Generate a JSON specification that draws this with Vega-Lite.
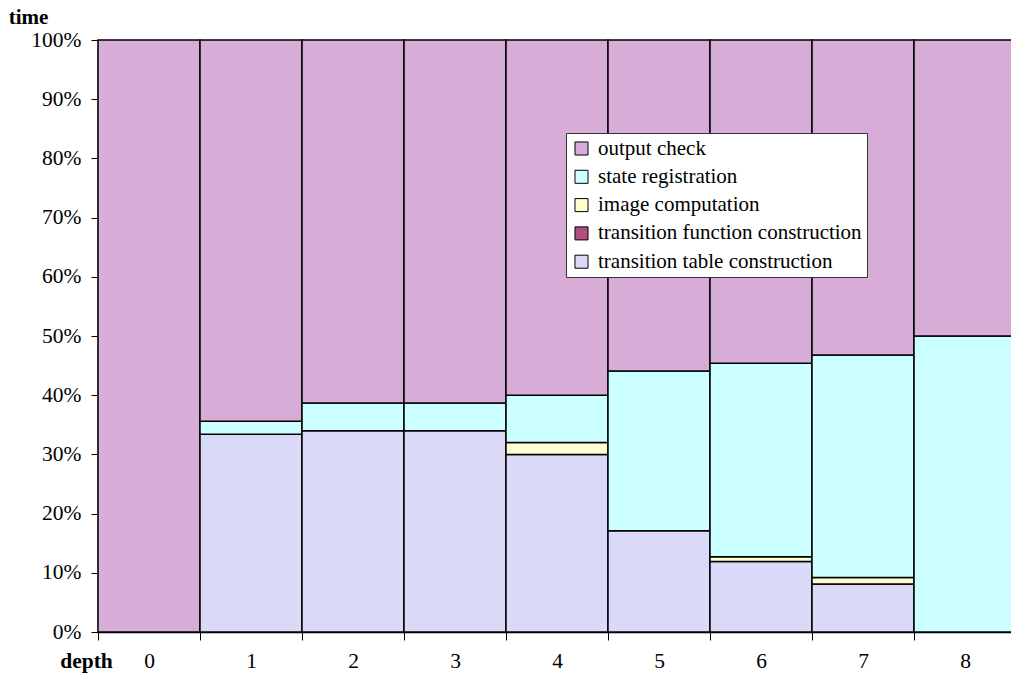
{
  "$schema": "https://vega.github.io/schema/vega-lite/v6.json",
  "width": 913,
  "height": 592,
  "autosize": {"type": "none"},
  "padding": {"left": 98, "top": 40, "right": 0, "bottom": 41},
  "background": "white",
  "config": {
    "view": {"stroke": null},
    "font": "Liberation Serif"
  },
  "data": {
    "values": [
      {"depth": "0", "task": "output check", "share": 1.0},
      {"depth": "1", "task": "transition table construction", "share": 0.334},
      {"depth": "1", "task": "state registration", "share": 0.022},
      {"depth": "1", "task": "output check", "share": 0.644},
      {"depth": "2", "task": "transition table construction", "share": 0.340},
      {"depth": "2", "task": "state registration", "share": 0.047},
      {"depth": "2", "task": "output check", "share": 0.613},
      {"depth": "3", "task": "transition table construction", "share": 0.340},
      {"depth": "3", "task": "state registration", "share": 0.047},
      {"depth": "3", "task": "output check", "share": 0.613},
      {"depth": "4", "task": "transition table construction", "share": 0.300},
      {"depth": "4", "task": "image computation", "share": 0.020},
      {"depth": "4", "task": "state registration", "share": 0.080},
      {"depth": "4", "task": "output check", "share": 0.600},
      {"depth": "5", "task": "transition table construction", "share": 0.171},
      {"depth": "5", "task": "state registration", "share": 0.270},
      {"depth": "5", "task": "output check", "share": 0.559},
      {"depth": "6", "task": "transition table construction", "share": 0.119},
      {"depth": "6", "task": "image computation", "share": 0.008},
      {"depth": "6", "task": "state registration", "share": 0.327},
      {"depth": "6", "task": "output check", "share": 0.546},
      {"depth": "7", "task": "transition table construction", "share": 0.081},
      {"depth": "7", "task": "image computation", "share": 0.011},
      {"depth": "7", "task": "state registration", "share": 0.376},
      {"depth": "7", "task": "output check", "share": 0.532},
      {"depth": "8", "task": "state registration", "share": 0.500},
      {"depth": "8", "task": "output check", "share": 0.500}
    ]
  },
  "transform": [
    {"calculate": "indexof(['transition table construction','transition function construction','image computation','state registration','output check'], datum.task)", "as": "ord"}
  ],
  "mark": {"type": "bar", "stroke": "black", "strokeWidth": 1.5},
  "encoding": {
    "x": {
      "field": "depth",
      "type": "ordinal",
      "sort": ["0","1","2","3","4","5","6","7","8"],
      "scale": {"range": [0, 918], "paddingInner": 0, "paddingOuter": 0},
      "axis": {
        "title": "depth",
        "titleFont": "Liberation Serif",
        "titleFontSize": 21.5,
        "titleFontWeight": "bold",
        "titleColor": "black",
        "titleX": -12,
        "titleY": 35,
        "titleAlign": "center",
        "titleBaseline": "alphabetic",
        "labelAngle": 0,
        "labelFont": "Liberation Serif",
        "labelFontSize": 21.5,
        "labelColor": "black",
        "labelPadding": 10,
        "tickBand": "extent",
        "tickSize": 8,
        "tickColor": "black",
        "domainColor": "black",
        "domainWidth": 1.5
      }
    },
    "y": {
      "field": "share",
      "type": "quantitative",
      "stack": "zero",
      "scale": {"domain": [0, 1], "nice": false},
      "axis": {
        "title": "time",
        "titleFont": "Liberation Serif",
        "titleFontSize": 21,
        "titleFontWeight": "bold",
        "titleColor": "black",
        "titleAngle": 0,
        "titleX": -70,
        "titleY": -17,
        "titleAlign": "center",
        "titleBaseline": "alphabetic",
        "format": ".0%",
        "values": [0, 0.1, 0.2, 0.3, 0.4, 0.5, 0.6, 0.7, 0.8, 0.9, 1.0],
        "grid": false,
        "labelFont": "Liberation Serif",
        "labelFontSize": 21.5,
        "labelColor": "black",
        "labelPadding": 10,
        "tickSize": 7,
        "tickColor": "black",
        "domainColor": "black",
        "domainWidth": 1.5
      }
    },
    "color": {
      "field": "task",
      "type": "nominal",
      "scale": {
        "domain": ["output check", "state registration", "image computation", "transition function construction", "transition table construction"],
        "range": ["#d7acd7", "#ccffff", "#fffcd2", "#b0507e", "#dadaf8"]
      },
      "legend": {
        "title": null,
        "orient": "none",
        "legendX": 468,
        "legendY": 93,
        "direction": "vertical",
        "fillColor": "white",
        "strokeColor": "#333333",
        "padding": 5,
        "symbolType": "square",
        "symbolSize": 170,
        "symbolStrokeColor": "black",
        "symbolStrokeWidth": 1,
        "labelFont": "Liberation Serif",
        "labelFontSize": 21,
        "labelColor": "black",
        "labelOffset": 6,
        "labelLimit": 0,
        "rowPadding": 6.3
      }
    },
    "order": {"field": "ord", "type": "quantitative"}
  }
}
